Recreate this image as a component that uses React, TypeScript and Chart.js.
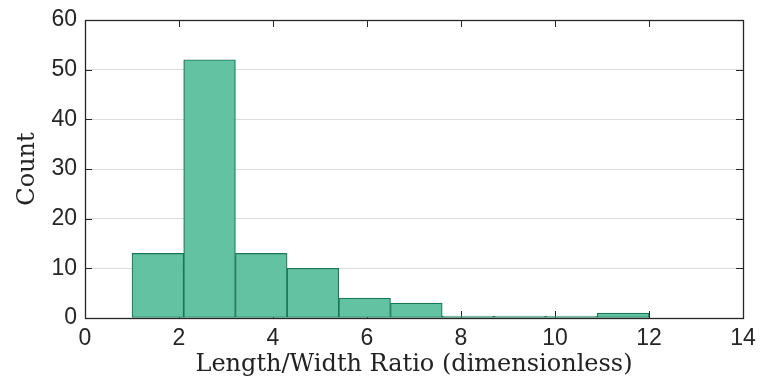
import React, { useEffect, useRef } from "react";
import { Chart, registerables } from "chart.js";

Chart.register(...registerables);

// Histogram bin edges and counts
const binEdges = [1.0, 2.1, 3.2, 4.3, 5.4, 6.5, 7.6, 8.7, 9.8, 10.9, 12.0];
const counts = [13, 52, 13, 10, 4, 3, 0, 0, 0, 1];
const xTicks = [0, 2, 4, 6, 8, 10, 12, 14];
const yTicks = [0, 10, 20, 30, 40, 50, 60];
const xTitle = "Length/Width Ratio (dimensionless)";
const yTitle = "Count";

const FILL = "rgb(98,194,162)";
const EDGE = "rgb(28,118,90)";
const AXIS = "#262626";

const boxPlugin = {
  id: "boxPlugin",
  beforeDatasetsDraw(chart: any) {
    const { ctx, chartArea, scales } = chart;
    const { left, right, top, bottom } = chartArea;
    const xs = scales.x;
    const ys = scales.y;
    ctx.save();
    ctx.strokeStyle = AXIS;
    ctx.lineWidth = 1;
    const tl = 7;
    ctx.beginPath();
    xTicks.forEach((v) => {
      const px = Math.round(xs.getPixelForValue(v)) + 0.5;
      ctx.moveTo(px, bottom);
      ctx.lineTo(px, bottom - tl);
      ctx.moveTo(px, top);
      ctx.lineTo(px, top + tl);
    });
    yTicks.forEach((v) => {
      const py = Math.round(ys.getPixelForValue(v)) + 0.5;
      ctx.moveTo(left, py);
      ctx.lineTo(left + tl, py);
      ctx.moveTo(right, py);
      ctx.lineTo(right - tl, py);
    });
    ctx.stroke();
    ctx.lineWidth = 1.3;
    ctx.strokeRect(
      Math.round(left) + 0.5,
      Math.round(top) + 0.5,
      Math.round(right) - Math.round(left),
      Math.round(bottom) - Math.round(top)
    );
    ctx.restore();
  },
};

export default function App() {
  const ref = useRef<HTMLCanvasElement | null>(null);

  useEffect(() => {
    if (!ref.current) return;
    const data = counts.map((c, i) => ({
      x: (binEdges[i] + binEdges[i + 1]) / 2,
      y: c,
    }));
    const chart = new Chart(ref.current, {
      type: "bar",
      data: {
        datasets: [
          {
            data: data as any,
            backgroundColor: FILL,
            borderColor: EDGE,
            borderWidth: 1.2,
            borderSkipped: false,
            barPercentage: 1,
            categoryPercentage: 1,
            minBarLength: 2,
          },
        ],
      },
      options: {
        animation: false,
        responsive: false,
        maintainAspectRatio: false,
        layout: { padding: { top: 20, right: 17, left: 0, bottom: 0 } },
        plugins: {
          legend: { display: false },
          tooltip: { enabled: false },
        },
        scales: {
          x: {
            type: "linear",
            min: 0,
            max: 14,
            offset: false,
            afterFit: (s: any) => {
              s.height = 67;
              s.paddingLeft = 0;
              s.paddingRight = 0;
            },
            afterBuildTicks: (s: any) => {
              s.ticks = xTicks.map((v) => ({ value: v }));
            },
            grid: { display: false, drawTicks: false, offset: false },
            border: { display: false },
            ticks: {
              padding: 7,
              color: AXIS,
              font: { family: "'Liberation Sans', Arial, sans-serif", size: 23 },
              maxRotation: 0,
              autoSkip: false,
            },
            title: {
              display: true,
              text: xTitle,
              color: "#222",
              font: { family: "'DejaVu Serif', serif", size: 24 },
              padding: { top: 0, bottom: 6 },
            },
          },
          y: {
            type: "linear",
            min: 0,
            max: 60,
            afterFit: (s: any) => {
              s.width = 85;
              s.paddingTop = 0;
              s.paddingBottom = 0;
            },
            afterBuildTicks: (s: any) => {
              s.ticks = yTicks.map((v) => ({ value: v }));
            },
            grid: { display: true, color: "#dcdcdc", lineWidth: 1, drawTicks: false },
            border: { display: false },
            ticks: {
              padding: 8,
              color: AXIS,
              font: { family: "'Liberation Sans', Arial, sans-serif", size: 23 },
            },
            title: {
              display: true,
              text: yTitle,
              color: "#222",
              font: { family: "'DejaVu Serif', serif", size: 24 },
              padding: { top: 13, bottom: 0 },
            },
          },
        },
      },
      plugins: [boxPlugin],
    });
    return () => chart.destroy();
  }, []);

  return (
    <div
      style={{
        position: "absolute",
        left: 0,
        top: 0,
        width: 760,
        height: 385,
        background: "#fff",
      }}
    >
      <canvas ref={ref} width={760} height={385} />
    </div>
  );
}
